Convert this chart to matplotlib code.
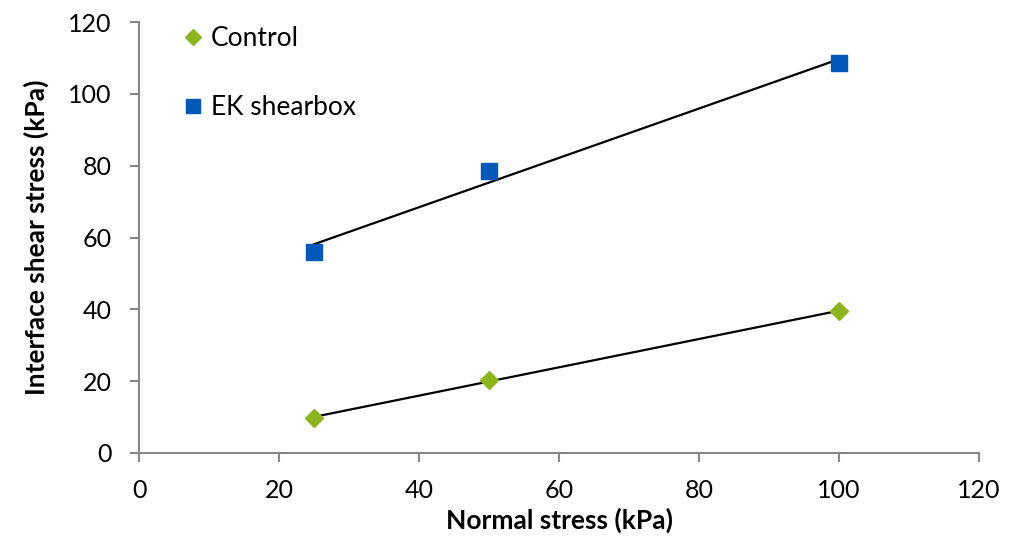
import numpy as np
import matplotlib.pyplot as plt

plt.rcParams['font.family'] = ['Lato', 'DejaVu Sans']

normal = [25, 50, 100]
control = [9.8, 20.3, 39.5]
ek = [56.0, 78.5, 108.6]

grey = '#868686'

fig = plt.figure(figsize=(10.23, 5.38), dpi=100)
ax = fig.add_axes([0.1359, 0.158, 0.8211, 0.801])

# linear trendlines
for ys in (control, ek):
    k, b = np.polyfit(normal, ys, 1)
    xs = np.array([normal[0], normal[-1]])
    ax.plot(xs, k * xs + b, color='black', lw=1.6, zorder=2)

ax.plot(normal, control, 'D', color='#8DB51E', ms=9, ls='none', label='Control', zorder=3)
ax.plot(normal, ek, 's', color='#0058B8', ms=11, ls='none', label='EK shearbox', zorder=3)

ax.set_xlim(0, 120)
ax.set_ylim(0, 120)
ax.set_xticks(np.arange(0, 121, 20))
ax.set_yticks(np.arange(0, 121, 20))

for s in ('top', 'right'):
    ax.spines[s].set_visible(False)
for s in ('left', 'bottom'):
    ax.spines[s].set_color(grey)
    ax.spines[s].set_linewidth(1.5)
ax.tick_params(colors=grey, width=1.5, length=6.5, labelsize=18, labelcolor='black')
ax.tick_params(axis='x', pad=12)
ax.tick_params(axis='y', pad=13)

ax.set_xlabel('Normal stress (kPa)', fontsize=19, fontweight='bold', labelpad=4)
ax.set_ylabel('Interface shear stress (kPa)', fontsize=19, fontweight='bold', labelpad=14)

ax.legend(loc='upper left', bbox_to_anchor=(0.027, 1.045), frameon=False, fontsize=19,
          labelspacing=1.67, handlelength=0.6, handletextpad=0.35, markerscale=0.95)

fig.savefig('out.png', dpi=100)
